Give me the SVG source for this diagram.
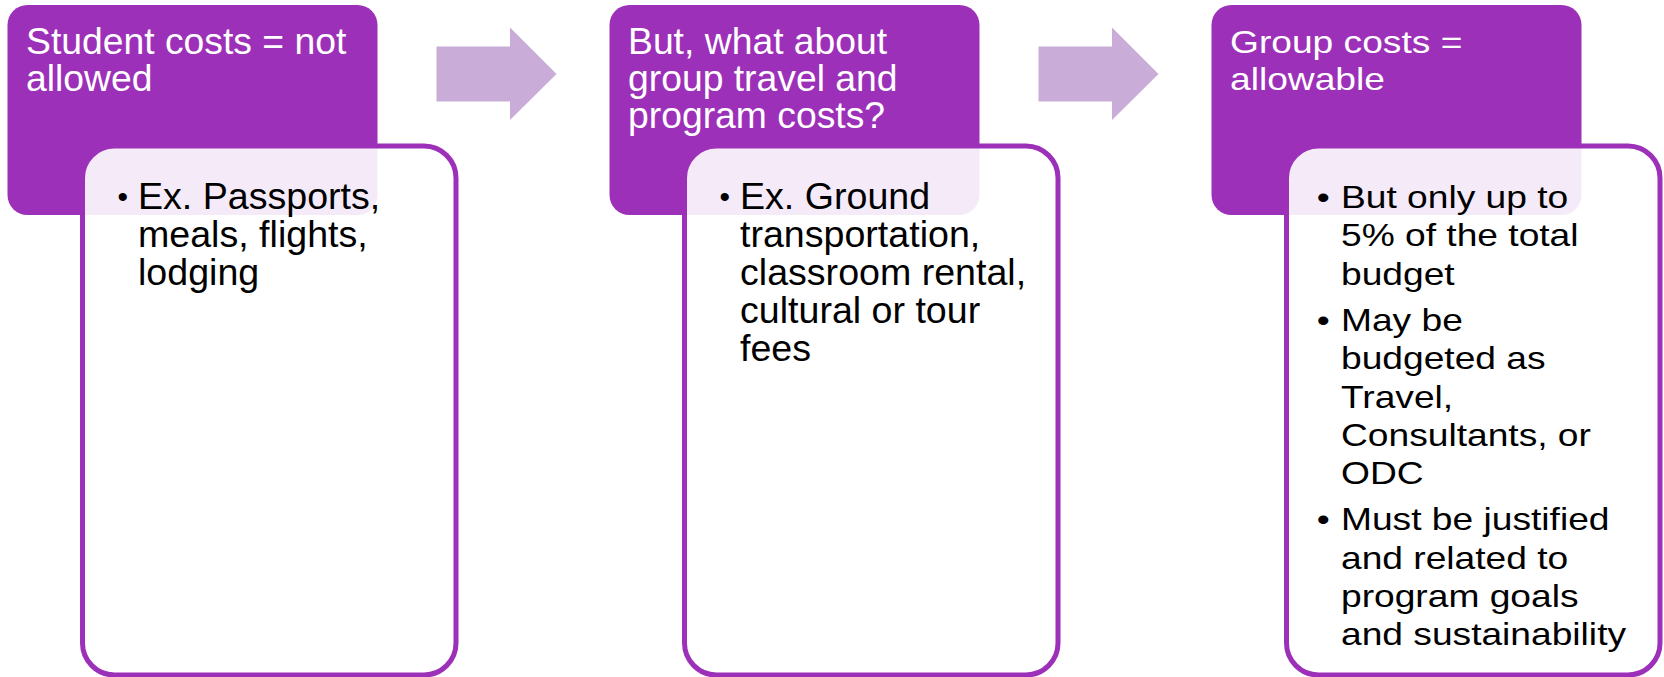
<svg xmlns="http://www.w3.org/2000/svg" width="1664" height="677" viewBox="0 0 1664 677">
  <style>
    .head { fill: #9D30B8; }
    .card { fill: #FFFFFF; fill-opacity: 0.9; stroke: #9D30B8; stroke-width: 5; }
    .arrow { fill: #C9ADD8; }
    .ht { font-family: "Liberation Sans", Arial, sans-serif; font-size: 37.3px; fill: #FFFFFF; }
    .bt { font-family: "Liberation Sans", Arial, sans-serif; font-size: 37.6px; fill: #000000; }
    .ht3 { font-family: "Liberation Sans", Arial, sans-serif; font-size: 31.5px; fill: #FFFFFF; }
    .bt3 { font-family: "Liberation Sans", Arial, sans-serif; font-size: 31.5px; fill: #000000; }
    .dot { font-size: 30px; }
  </style>
  <rect width="1664" height="677" fill="#FFFFFF"/>

  <!-- step 1 -->
  <g id="step-student-costs">
    <rect class="head" x="7.5" y="5" width="370" height="210" rx="20"/>
    <text class="ht"><tspan x="26" y="54">Student costs = not</tspan><tspan x="26" y="91">allowed</tspan></text>
    <rect class="card" x="82.5" y="146" width="373.5" height="529" rx="32"/>
    <text class="bt"><tspan class="dot" x="117.5" y="207">•</tspan><tspan x="138" y="209">Ex. Passports,</tspan><tspan x="138" y="247">meals, flights,</tspan><tspan x="138" y="285">lodging</tspan></text>
  </g>

  <!-- step 2 -->
  <g id="step-group-question">
    <rect class="head" x="609.5" y="5" width="370" height="210" rx="20"/>
    <text class="ht"><tspan x="628" y="54">But, what about</tspan><tspan x="628" y="91">group travel and</tspan><tspan x="628" y="128">program costs?</tspan></text>
    <rect class="card" x="684.5" y="146" width="373.5" height="529" rx="32"/>
    <text class="bt"><tspan class="dot" x="719.5" y="207">•</tspan><tspan x="740" y="209">Ex. Ground</tspan><tspan x="740" y="247">transportation,</tspan><tspan x="740" y="285">classroom rental,</tspan><tspan x="740" y="323">cultural or tour</tspan><tspan x="740" y="361">fees</tspan></text>
  </g>

  <!-- step 3 -->
  <g id="step-group-allowable">
    <rect class="head" x="1211.5" y="5" width="370" height="210" rx="20"/>
    <g transform="translate(1230 0) scale(1.18 1)">
      <text class="ht3"><tspan x="0" y="53">Group costs =</tspan><tspan x="0" y="90">allowable</tspan></text>
    </g>
    <rect class="card" x="1286.5" y="146" width="373.5" height="529" rx="32"/>
    <g transform="translate(1341 0) scale(1.18 1)">
      <text class="bt3">
        <tspan x="-20.5" y="208">•</tspan><tspan x="0" y="208">But only up to</tspan>
        <tspan x="0" y="246.3">5% of the total</tspan>
        <tspan x="0" y="284.6">budget</tspan>
        <tspan x="-20.5" y="331">•</tspan><tspan x="0" y="331">May be</tspan>
        <tspan x="0" y="369.3">budgeted as</tspan>
        <tspan x="0" y="407.6">Travel,</tspan>
        <tspan x="0" y="445.9">Consultants, or</tspan>
        <tspan x="0" y="484.2">ODC</tspan>
        <tspan x="-20.5" y="530.5">•</tspan><tspan x="0" y="530.5">Must be justified</tspan>
        <tspan x="0" y="568.8">and related to</tspan>
        <tspan x="0" y="607.1">program goals</tspan>
        <tspan x="0" y="645.4">and sustainability</tspan>
      </text>
    </g>
  </g>

  <!-- block arrows between steps -->
  <g id="connectors">
    <polygon class="arrow" points="436.5,46.5 510,46.5 510,27.5 556.5,74 510,120 510,101.5 436.5,101.5"/>
    <polygon class="arrow" points="1038.5,46.5 1112,46.5 1112,27.5 1158.5,74 1112,120 1112,101.5 1038.5,101.5"/>
  </g>
</svg>
